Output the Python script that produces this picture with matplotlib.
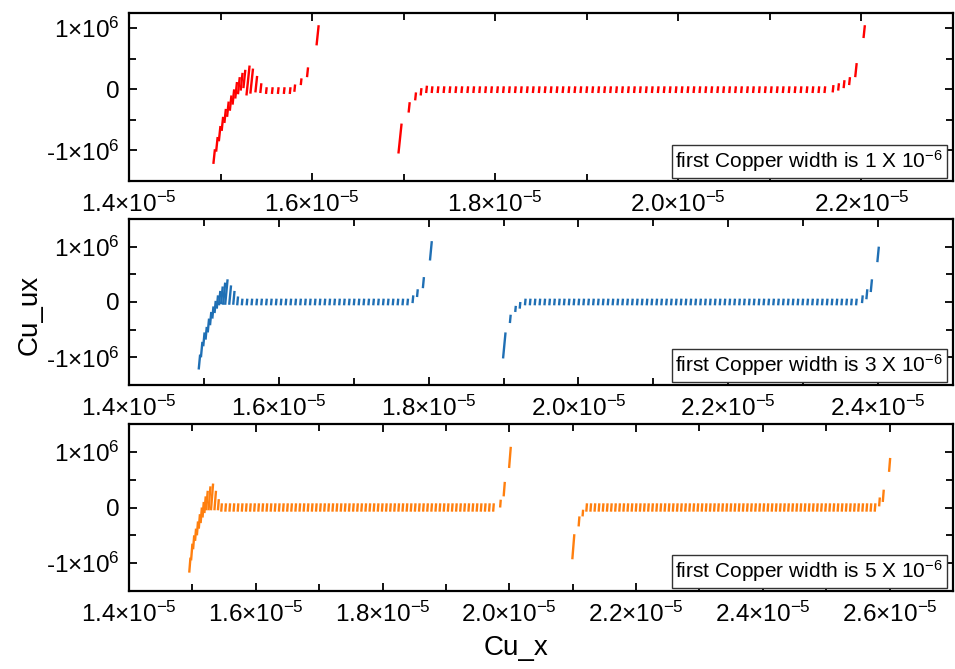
import numpy as np
import matplotlib
matplotlib.use("Agg")
import matplotlib.pyplot as plt
from matplotlib.collections import LineCollection
from matplotlib.ticker import MultipleLocator, FuncFormatter

plt.rcParams['font.family'] = ['Liberation Sans', 'DejaVu Sans']
plt.rcParams['mathtext.fontset'] = 'custom'
plt.rcParams['mathtext.rm'] = 'Liberation Sans'
plt.rcParams['mathtext.it'] = 'Liberation Sans:italic'

# x in units of 1e-5 m, y (Cu_ux) in units of 1e6
PITCH = 0.0065  # spacing of the element ticks along x

# ---- first Copper width 1e-6 (red) ----
p1_x = [1.493, 1.496, 1.499, 1.502, 1.505, 1.508, 1.511, 1.514, 1.517, 1.520, 1.523, 1.526,
        1.530, 1.534, 1.539, 1.544,
        1.581, 1.588, 1.595, 1.606,
        1.696, 1.706, 1.713, 1.719, 1.725,
        2.169, 2.175, 2.181, 2.187, 2.194, 2.203]
p1_lo = [-1.22, -1.02, -0.85, -0.68, -0.55, -0.45, -0.35, -0.25, -0.15, -0.08, -0.02, 0.02,
         -0.10, -0.07, -0.05, -0.06,
         -0.04, 0.07, 0.20, 0.72,
         -1.05, -0.38, -0.18, -0.10, -0.06,
         -0.05, -0.02, 0.02, 0.07, 0.20, 0.84]
p1_hi = [-0.98, -0.78, -0.60, -0.45, -0.32, -0.20, -0.10, 0.00, 0.12, 0.20, 0.27, 0.32,
         0.39, 0.34, 0.22, 0.10,
         0.08, 0.18, 0.36, 1.05,
         -0.56, -0.21, -0.05, 0.02, 0.06,
         0.07, 0.10, 0.15, 0.20, 0.43, 1.05]
p1_flat_start = [1.550, 1.731]
p1_flat_end = [1.576, 2.164]
p1_flat_mid = [-0.02, -0.005]
p1_flat_amp = 0.055

# ---- first Copper width 3e-6 (blue) ----
p2_x = [1.494, 1.497, 1.500, 1.503, 1.506, 1.509, 1.512, 1.515, 1.518, 1.521, 1.524, 1.527,
        1.530, 1.535, 1.540, 1.545,
        1.779, 1.785, 1.793, 1.803,
        1.901, 1.909, 1.916, 1.922,
        2.379, 2.385, 2.391, 2.400]
p2_lo = [-1.22, -1.00, -0.80, -0.68, -0.55, -0.42, -0.30, -0.20, -0.12, -0.06, -0.04, -0.05,
         -0.05, -0.05, -0.05, -0.06,
         -0.02, 0.09, 0.25, 0.75,
         -1.02, -0.38, -0.18, -0.12,
         -0.02, 0.05, 0.18, 0.72]
p2_hi = [-0.95, -0.72, -0.55, -0.45, -0.30, -0.18, -0.08, 0.02, 0.12, 0.20, 0.28, 0.35,
         0.41, 0.30, 0.20, 0.10,
         0.12, 0.23, 0.45, 1.10,
         -0.55, -0.23, -0.07, 0.00,
         0.12, 0.23, 0.41, 1.00]
p2_flat_start = [1.551, 1.929]
p2_flat_end = [1.774, 2.374]
p2_flat_mid = [0.0, 0.0]
p2_flat_amp = 0.06

# ---- first Copper width 5e-6 (orange) ----
p3_x = [1.496, 1.499, 1.502, 1.505, 1.508, 1.511, 1.514, 1.517, 1.520, 1.523, 1.527,
        1.531, 1.536, 1.541,
        1.986, 1.992, 2.001,
        2.101, 2.110, 2.116,
        2.584, 2.590, 2.600]
p3_lo = [-1.17, -0.95, -0.75, -0.60, -0.50, -0.38, -0.28, -0.18, -0.10, -0.05, -0.05,
         -0.05, -0.05, -0.05,
         0.00, 0.20, 0.71,
         -0.93, -0.34, -0.16,
         0.02, 0.10, 0.64]
p3_hi = [-0.90, -0.65, -0.50, -0.38, -0.25, -0.12, 0.00, 0.10, 0.20, 0.30, 0.38,
         0.43, 0.30, 0.15,
         0.14, 0.46, 1.09,
         -0.48, -0.16, -0.04,
         0.18, 0.32, 0.89]
p3_flat_start = [1.546, 2.122]
p3_flat_end = [1.980, 2.577]
p3_flat_mid = [0.0, 0.0]
p3_flat_amp = 0.075

labels = ['first Copper width is 1 X 10$^{-6}$',
          'first Copper width is 3 X 10$^{-6}$',
          'first Copper width is 5 X 10$^{-6}$']
colors = ['#ff0000', '#1f6fb4', '#ff7f0e']
xlims = [(1.4, 2.3), (1.4, 2.5), (1.4, 2.7)]
ylims = [(-1.5, 1.25), (-1.5, 1.5), (-1.5, 1.5)]

panels = [
    (p1_x, p1_lo, p1_hi, p1_flat_start, p1_flat_end, p1_flat_mid, p1_flat_amp),
    (p2_x, p2_lo, p2_hi, p2_flat_start, p2_flat_end, p2_flat_mid, p2_flat_amp),
    (p3_x, p3_lo, p3_hi, p3_flat_start, p3_flat_end, p3_flat_mid, p3_flat_amp),
]


def xfmt(v, pos):
    return r'%.1f$\times$10$^{-5}$' % v


def yfmt(v, pos):
    if abs(v) < 1e-9:
        return '0'
    return r'%s1$\times$10$^{6}$' % ('-' if v < 0 else '')


fig = plt.figure(figsize=(9.55, 6.69), dpi=100)
boxes = [(129, 13, 181), (129, 219, 385), (129, 424, 591)]
W, H = 955.0, 669.0
right = 953

for i, (px, lo, hi, fs, fe, fm, amp) in enumerate(panels):
    l, t, b = boxes[i]
    ax = fig.add_axes([l / W, 1 - b / H, (right - l) / W, (b - t) / H])

    xs = list(px)
    los = list(lo)
    his = list(hi)
    for s, e, m in zip(fs, fe, fm):
        for xv in np.arange(s, e, PITCH):
            xs.append(xv)
            los.append(m - amp)
            his.append(m + amp)
    xs = np.array(xs)
    los = np.array(los)
    his = np.array(his)
    slant = (his - los) * 0.007
    segs = [[(x - d / 2, a), (x + d / 2, c)] for x, a, c, d in zip(xs, los, his, slant)]
    ax.add_collection(LineCollection(segs, colors=colors[i], linewidths=1.7))

    ax.set_xlim(*xlims[i])
    ax.set_ylim(*ylims[i])
    ax.xaxis.set_major_locator(MultipleLocator(0.2))
    ax.xaxis.set_minor_locator(MultipleLocator(0.1))
    ax.yaxis.set_major_locator(MultipleLocator(1.0))
    ax.yaxis.set_minor_locator(MultipleLocator(0.5))
    ax.xaxis.set_major_formatter(FuncFormatter(xfmt))
    ax.yaxis.set_major_formatter(FuncFormatter(yfmt))
    ax.tick_params(which='both', direction='in', top=True, right=True, width=1.3,
                   labelsize=17.5)
    ax.tick_params(which='major', length=6)
    ax.tick_params(which='minor', length=5)
    ax.tick_params(axis='x', pad=8)
    ax.tick_params(axis='y', pad=7)
    for sp in ax.spines.values():
        sp.set_linewidth(1.6)

    ax.text(0.988, 0.04, labels[i], transform=ax.transAxes, ha='right', va='bottom',
            fontsize=15,
            bbox=dict(boxstyle='square,pad=0.18', facecolor='white', edgecolor='#333333',
                      linewidth=1.0))

fig.text(30 / W, 1 - 315 / H, 'Cu_ux', rotation=90, ha='center', va='center', fontsize=20)
fig.text(516 / W, 1 - 648 / H, 'Cu_x', ha='center', va='center', fontsize=20)

fig.savefig('out.png', dpi=100)
